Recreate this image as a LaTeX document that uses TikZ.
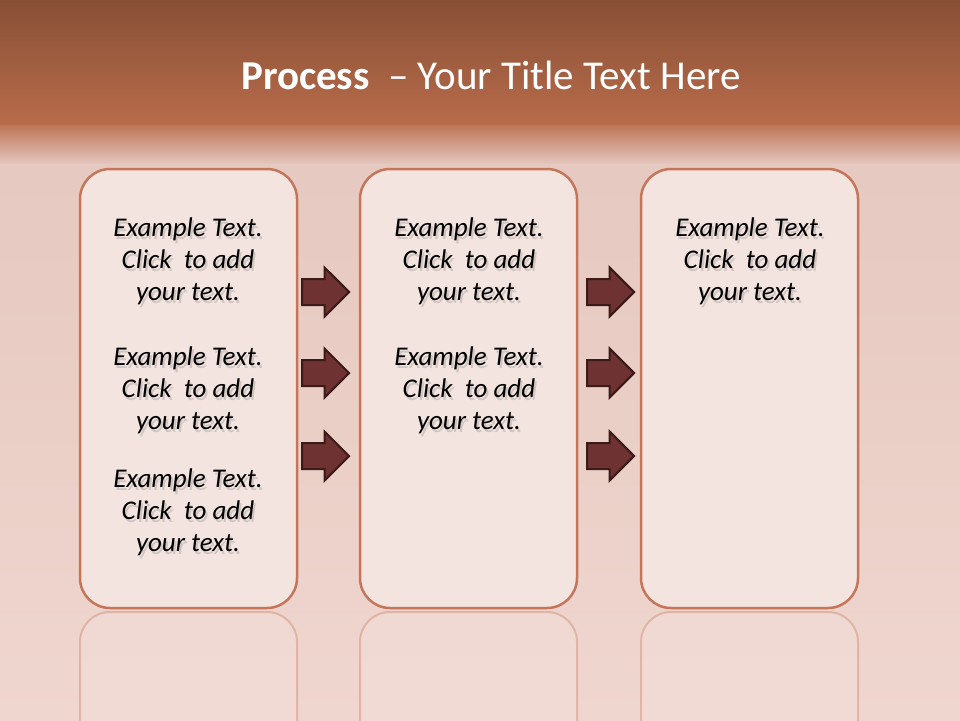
\documentclass[tikz,border=0pt]{standalone}
\usepackage{fontspec}
\setmainfont{Carlito}
\usetikzlibrary{shapes.arrows}
\definecolor{bgtop}{HTML}{874F35}
\definecolor{bgmid}{HTML}{B96C4B}
\definecolor{bgfade}{HTML}{D9AE9E}
\definecolor{bgpale}{HTML}{E6C9C1}
\definecolor{bgbot}{HTML}{EFD6CE}
\definecolor{boxfill}{HTML}{F3E4DF}
\definecolor{boxline}{HTML}{C4765A}
\definecolor{arrfill}{HTML}{6E3232}
\definecolor{arrline}{HTML}{3B1A18}
\tikzset{
  panel/.style={draw=boxline,line width=2.5pt,fill=boxfill,rounded corners=30pt},
  ghost/.style={draw=boxline,draw opacity=0.35,line width=2pt,fill=white,fill opacity=0.12,rounded corners=30pt},
  flowarrow/.style={single arrow,draw=arrline,line width=2pt,fill=arrfill,
    minimum height=47pt,inner sep=0pt,inner ysep=12pt,single arrow head extend=11.5pt,
    single arrow tip angle=90,anchor=tip},
  body/.style={font=\fontsize{27}{32}\selectfont\itshape,align=center,text=black,inner sep=0pt,anchor=north},
  bodyshadow/.style={body,text=black!70,opacity=0.2},
}
\newcommand{\sampletext}{Example Text.\\Click\ \ to add\\your text.}
\begin{document}
\begin{tikzpicture}[x=1pt,y=-1pt]
\useasboundingbox (0,0) rectangle (960,720);
% background
\shade[top color=bgtop,bottom color=bgmid] (0,0) rectangle (960,126);
\shade[top color=bgmid!85!bgfade,bottom color=bgpale] (0,125.5) rectangle (960,165);
\shade[top color=bgpale,bottom color=bgbot] (0,164.5) rectangle (960,720);
% title
\node[text=white,font=\fontsize{41}{44}\selectfont,anchor=center] (title) at (491,75)
  {\textbf{Process}\ \ – Your Title Text Here};
% reflections
\begin{scope}
\clip (0,610) rectangle (960,720);
\draw[ghost] (80,612) rectangle (297,1050);
\draw[ghost] (360,612) rectangle (577,1050);
\draw[ghost] (641,612) rectangle (858,1050);
\end{scope}
% panels
\draw[panel] (80,169) rectangle (297,608) node[pos=0.5,coordinate] (p1) {};
\draw[panel] (360,169) rectangle (577,608) node[pos=0.5,coordinate] (p2) {};
\draw[panel] (641,169) rectangle (858,608) node[pos=0.5,coordinate] (p3) {};
% arrows
\node[flowarrow] (a1) at (350.5,292) {};
\node[flowarrow] (a2) at (350.5,373) {};
\node[flowarrow] (a3) at (350.5,456) {};
\node[flowarrow] (b1) at (635.5,292) {};
\node[flowarrow] (b2) at (635.5,373) {};
\node[flowarrow] (b3) at (635.5,456) {};
% text shadows (soft)
\foreach \n/\x/\y in {s1/188/218,s2/188/347,s3/188/469,s4/469/218,s5/469/347,s6/750/218}{
  \node[bodyshadow] (\n sh) at (\x+2,\y+3) {\sampletext};
}
% texts
\node[body] (t1) at (188,218) {\sampletext};
\node[body] (t2) at (188,347) {\sampletext};
\node[body] (t3) at (188,469) {\sampletext};
\node[body] (t4) at (469,218) {\sampletext};
\node[body] (t5) at (469,347) {\sampletext};
\node[body] (t6) at (750,218) {\sampletext};
\end{tikzpicture}
\end{document}
